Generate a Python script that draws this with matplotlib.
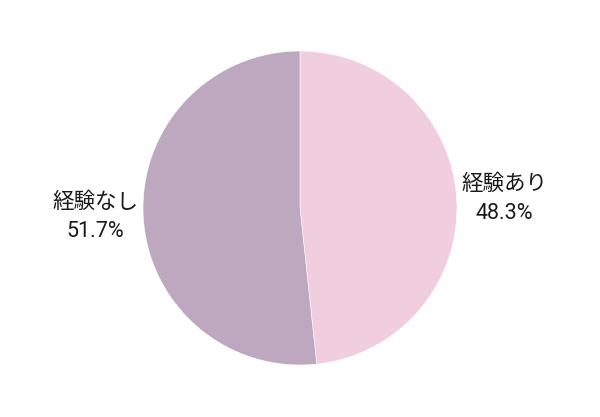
import matplotlib
matplotlib.use("Agg")
import matplotlib.pyplot as plt

plt.rcParams['font.family'] = ['Roboto', 'Noto Sans CJK JP', 'DejaVu Sans']

categories = ['経験あり', '経験なし']
values = [48.3, 51.7]
colors = ['#F0CEE0', '#BEA8C0']

W, H, DPI = 600, 417, 100
fig = plt.figure(figsize=(W / DPI, H / DPI), dpi=DPI)
ax = fig.add_axes([0, 0, 1, 1])

R = 157.0          # pie radius in pixels
cx, cy = 300.0, 209.0  # pie centre (from bottom-left)

labels = [f'{c}\n{v:.1f}%' for c, v in zip(categories, values)]
wedges, texts = ax.pie(values, labels=labels, colors=colors, startangle=90,
                       counterclock=False, radius=1.0, labeldistance=1.03,
                       wedgeprops=dict(linewidth=0.4, edgecolor='white'),
                       textprops=dict(fontsize=15.5, color='#1a1a1a',
                                      multialignment='center', linespacing=1.5))

ax.set_xlim(-cx / R, (W - cx) / R)
ax.set_ylim(-cy / R, (H - cy) / R)
ax.set_aspect('equal')
ax.axis('off')

fig.savefig('out.png', dpi=DPI)
